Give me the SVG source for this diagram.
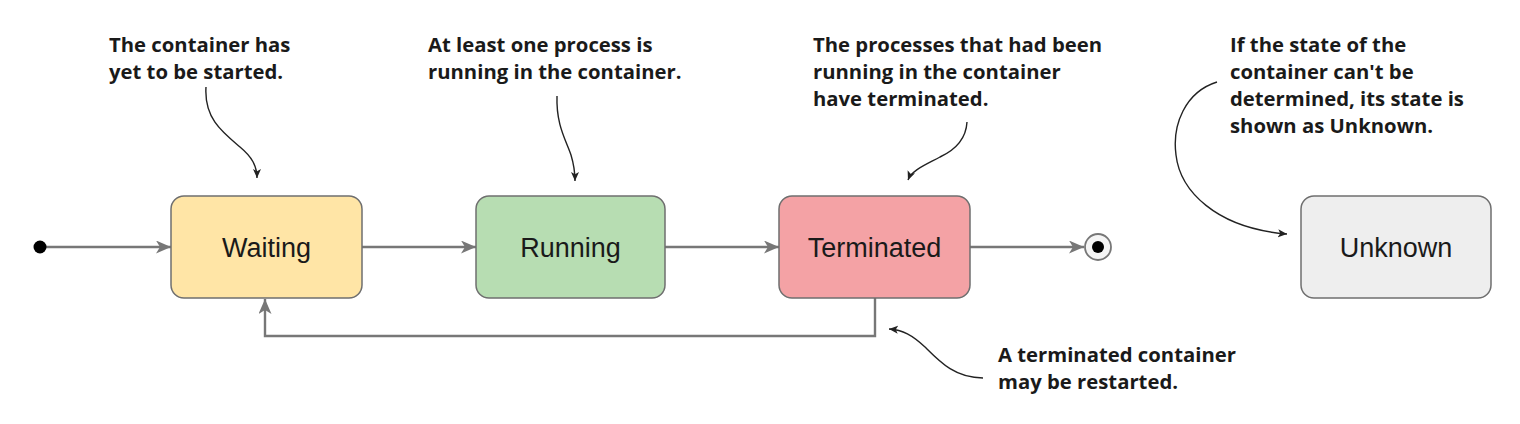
<svg xmlns="http://www.w3.org/2000/svg" width="1520" height="424" viewBox="0 0 1520 424">
  <defs>
    <style>
      .state { stroke: #6f6f6f; stroke-width: 1.5; }
      .label { font-family: "Liberation Sans", Arial, sans-serif; font-size: 27px; fill: #1a1a1a; text-anchor: middle; }
      .note { font-family: "Open Sans", "Noto Sans", sans-serif; font-weight: bold; font-size: 20.3px; fill: #1a1a1a; }
      .flow { fill: none; stroke: #777777; stroke-width: 2.4; }
      .pointer { fill: none; stroke: #222222; stroke-width: 1.4; }
    </style>
    <marker id="flowArrow" markerUnits="userSpaceOnUse" markerWidth="16" markerHeight="14" refX="15" refY="6.5" orient="auto">
      <path d="M0,0 L15,6.5 L0,13 L4,6.5 z" fill="#777777"/>
    </marker>
    <marker id="noteArrow" markerUnits="userSpaceOnUse" markerWidth="10" markerHeight="9" refX="9" refY="4" orient="auto">
      <path d="M0,0 L9,4 L0,8 L2.2,4 z" fill="#222222"/>
    </marker>
  </defs>
  <rect width="1520" height="424" fill="#ffffff"/>

  <g id="connectors">
    <path class="flow" d="M46,247 H171" marker-end="url(#flowArrow)"/>
    <path class="flow" d="M362,247 H476" marker-end="url(#flowArrow)"/>
    <path class="flow" d="M665,247 H779" marker-end="url(#flowArrow)"/>
    <path class="flow" d="M970,247 H1084" marker-end="url(#flowArrow)"/>
    <path class="flow" d="M875,298 V336 H265 V299" marker-end="url(#flowArrow)"/>
    <path class="pointer" d="M206,87 C204,118 222,132 240,147 C252,157 257,166 257,178" marker-end="url(#noteArrow)"/>
    <path class="pointer" d="M557,96 C556,125 566,140 571,155 C574,165 575,172 575,181" marker-end="url(#noteArrow)"/>
    <path class="pointer" d="M967,122 C966,140 955,150 940,157 C925,165 912,170 908,180" marker-end="url(#noteArrow)"/>
    <path class="pointer" d="M1217,82 C1185,92 1172,125 1176,155 C1180,190 1215,228 1287,234" marker-end="url(#noteArrow)"/>
    <path class="pointer" d="M983,378 C955,378 940,362 925,347 C912,335 903,330 889,329" marker-end="url(#noteArrow)"/>
  </g>

  <g id="initial">
    <circle cx="40" cy="247" r="6.5" fill="#000000"/>
  </g>

  <g id="waiting">
    <rect class="state" x="171" y="196" width="191" height="102" rx="13" fill="#FFE5A6"/>
    <text class="label" x="266.5" y="256.5">Waiting</text>
  </g>

  <g id="running">
    <rect class="state" x="476" y="196" width="189" height="102" rx="13" fill="#B7DDB2"/>
    <text class="label" x="570.5" y="256.5">Running</text>
  </g>

  <g id="terminated">
    <rect class="state" x="779" y="196" width="191" height="102" rx="13" fill="#F4A2A5"/>
    <text class="label" x="874.5" y="256.5">Terminated</text>
  </g>

  <g id="final">
    <circle cx="1098" cy="247" r="13" fill="#f5f5f5" stroke="#777777" stroke-width="1.8"/>
    <circle cx="1098" cy="247" r="6" fill="#000000"/>
  </g>

  <g id="unknown">
    <rect class="state" x="1301" y="196" width="190" height="102" rx="13" fill="#EEEEEE"/>
    <text class="label" x="1396" y="256.5">Unknown</text>
  </g>

  <g id="note-waiting">
    <text class="note" x="109" y="52">The container has</text>
    <text class="note" x="109" y="79">yet to be started.</text>
  </g>

  <g id="note-running">
    <text class="note" x="428" y="52">At least one process is</text>
    <text class="note" x="428" y="79">running in the container.</text>
  </g>

  <g id="note-terminated">
    <text class="note" x="813" y="52">The processes that had been</text>
    <text class="note" x="813" y="79">running in the container</text>
    <text class="note" x="813" y="106">have terminated.</text>
  </g>

  <g id="note-unknown">
    <text class="note" x="1230" y="52">If the state of the</text>
    <text class="note" x="1230" y="79">container can't be</text>
    <text class="note" x="1230" y="106">determined, its state is</text>
    <text class="note" x="1230" y="133">shown as Unknown.</text>
  </g>

  <g id="note-restart">
    <text class="note" x="998" y="362">A terminated container</text>
    <text class="note" x="998" y="389">may be restarted.</text>
  </g>
</svg>
